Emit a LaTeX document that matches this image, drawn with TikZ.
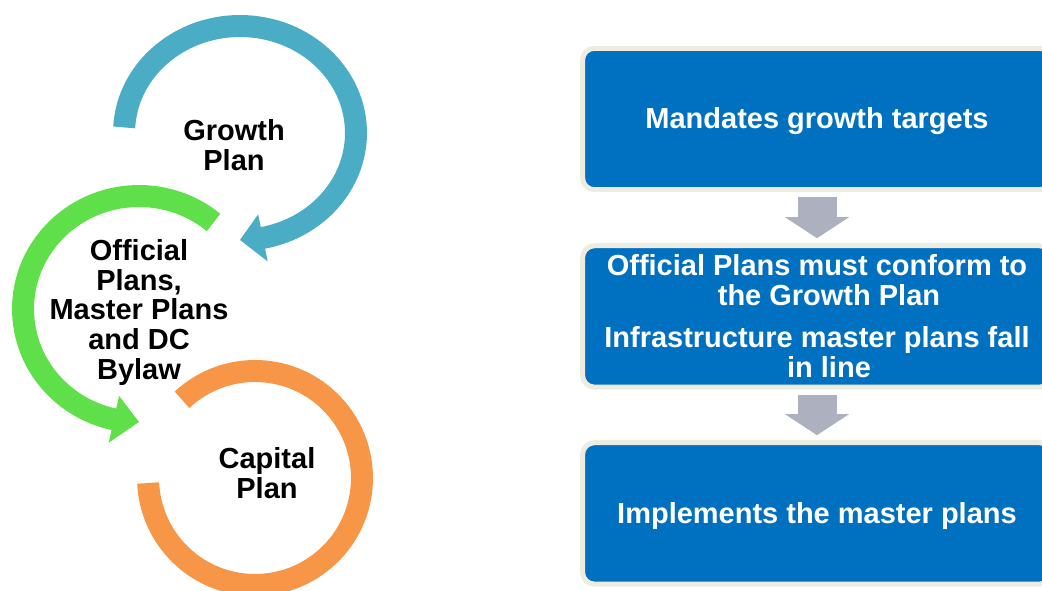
\documentclass[tikz,border=0pt]{standalone}
\usepackage{fontspec}
\setmainfont{Liberation Sans}
\usetikzlibrary{positioning,arrows.meta}
\definecolor{ringblue}{HTML}{4BACC6}
\definecolor{ringgreen}{HTML}{5FE04B}
\definecolor{ringorange}{HTML}{F79646}
\definecolor{boxblue}{HTML}{0070C0}
\definecolor{boxrim}{HTML}{EEECE1}
\definecolor{downgrey}{HTML}{ADB1BF}
\tikzset{
  ring/.style={line width=0.44cm},
  ringtext/.style={font=\bfseries\fontsize{16.5}{17}\selectfont, align=center, inner sep=0pt},
  stagebox/.style={draw=boxrim, line width=0.1cm, fill=boxblue, rounded corners=0.24cm,
    minimum width=9.38cm, minimum height=2.83cm, outer sep=0pt, inner sep=0pt,
    text=white, font=\bfseries\fontsize{16.5}{17}\selectfont, align=center},
  oneline/.style={text height=0.52cm, text depth=0.12cm},
  downarrow/.style={downgrey, line width=0.78cm, -{Triangle[length=0.42cm,width=1.26cm]},
    shorten <=0.15cm, shorten >=0.15cm}
}
\begin{document}
\begin{tikzpicture}[x=0.02cm,y=0.02cm]
	\useasboundingbox (0,0) rectangle (1042,-591);
	\clip (0,0) rectangle (1042,-591);
	\coordinate (bluec) at (240,-133);
	\coordinate (greenc) at (139,-309);
	\coordinate (orangec) at (255,-478);
	\draw[ring,ringblue] ([shift={(177:2.32cm and 2.14cm)}]bluec) arc[start angle=177,end angle=-80,x radius=2.32cm,y radius=2.14cm];
	\fill[ringblue] ([shift={(-78.6:2.8cm and 2.62cm)}]bluec) -- ([shift={(-90:2.32cm and 2.14cm)}]bluec) -- ([shift={(-78.6:1.84cm and 1.66cm)}]bluec) -- cycle;
	\draw[ring,ringgreen] ([shift={(50:2.32cm and 2.26cm)}]greenc) arc[start angle=50,end angle=259,x radius=2.32cm,y radius=2.26cm];
	\fill[ringgreen] ([shift={(257.5:2.8cm and 2.74cm)}]greenc) -- ([shift={(270:2.32cm and 2.26cm)}]greenc) -- ([shift={(257.5:1.84cm and 1.78cm)}]greenc) -- cycle;
	\draw[ring,ringorange] ([shift={(133:2.14cm)}]orangec) arc[start angle=133,end angle=-177.3,radius=2.14cm];
	\node[ringtext] (growth) at (234,-145.5) {Growth\\Plan};
	\node[ringtext] (official) at (139,-312.5) {Official\\Plans,\\Master Plans\\and DC\\Bylaw};
	\node[ringtext] (capital) at (267,-473.5) {Capital\\Plan};
	\node[stagebox,oneline] (mandate) at (817,-119) {Mandates growth targets};
	\node[stagebox, below=1.12cm of mandate] (conform) {Official Plans must conform to\\\hspace*{0.48cm}the Growth Plan\\[7pt]Infrastructure master plans fall\\\hspace*{0.48cm}in line};
	\node[stagebox,oneline, below=1.11cm of conform] (implement) {Implements the master plans};
	\draw[downarrow] (mandate) -- (conform);
	\draw[downarrow] (conform) -- (implement);
\end{tikzpicture}
\end{document}
